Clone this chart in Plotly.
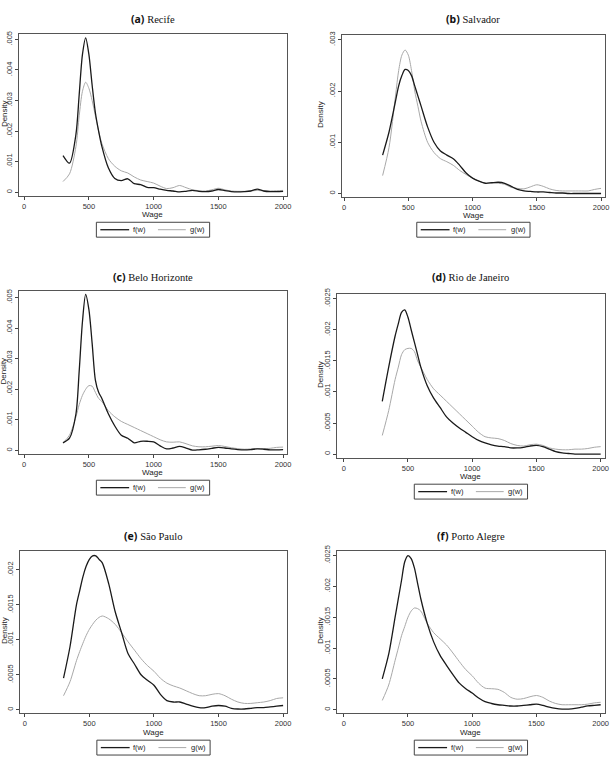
import plotly.graph_objects as go

# wage grid shared by all six kernel density curves
wage = [300, 350, 400, 425, 450, 475, 500, 525, 550, 575, 600, 650, 700, 750, 800,
        850, 900, 950, 1000, 1050, 1100, 1150, 1200, 1250, 1300, 1350, 1400, 1450,
        1500, 1550, 1600, 1650, 1700, 1750, 1800, 1850, 1900, 1950, 2000]

recife_f = [.0012, .00095, .0019, .0032, .0045, .00505, .0045, .0035, .0026, .002, .0015,
            .0008, .00045, .00038, .00044, .00028, .00025, .00016, .00015, .0001, .00006,
            .00004, .00001, .00003, .00006, .00003, .00002, .00004, .00009, .00005, .00002,
            .00001, .00002, .00004, .0001, .00004, .00002, .00002, .00003]
recife_g = [.00035, .0006, .0015, .0025, .0033, .0036, .0034, .003, .0025, .002, .0016,
            .0011, .00085, .0007, .00063, .0005, .0004, .00035, .0003, .0002, .00012,
            .00015, .00022, .00015, .00008, .00005, .00004, .00008, .00013, .00008, .00004,
            .00003, .00003, .00004, .00006, .00004, .00004, .00005, .00006]

salvador_f = [.00075, .0012, .0018, .0021, .0023, .00242, .0024, .0023, .0021, .0019, .0017,
              .0013, .001, .00083, .00075, .00068, .00055, .0004, .0003, .00024, .0002,
              .00021, .00022, .0002, .00014, .00008, .00005, .00004, .00003, .00003, .00002,
              .00001, .00001, 0, 0, 0, 0, 0, 0]
salvador_g = [.00035, .0009, .0019, .0024, .0027, .0028, .0027, .0024, .002, .0017, .0014,
              .001, .0008, .00068, .00062, .00055, .00045, .00037, .0003, .00024, .0002,
              .00021, .0002, .00018, .00012, .0001, .00009, .00013, .00017, .00014, .00009,
              .00006, .00005, .00005, .00005, .00005, .00005, .00008, .0001]

bh_f = [.00025, .0004, .0012, .0026, .0042, .0051, .0046, .0035, .0023, .0019, .0017,
        .0012, .0008, .0005, .0004, .00025, .0003, .0003, .00028, .00015, .00005,
        .00008, .00013, .00008, .00001, .00002, .00004, .00007, .0001, .00008, .00005,
        .00003, .00002, .00003, .00005, .00004, .00002, .00002, .00003]
bh_g = [.00025, .0005, .0011, .0015, .0018, .002, .00212, .0021, .0019, .0017, .0016,
        .0013, .0011, .00095, .00085, .00075, .00065, .00055, .00045, .00035, .00028,
        .00027, .00028, .00022, .00015, .00012, .00012, .00014, .00016, .00013, .00009,
        .00006, .00004, .00005, .00006, .00006, .00007, .0001, .00011]

rio_f = [.00085, .0014, .0019, .0021, .00228, .00232, .0022, .002, .0018, .0016, .0014,
         .0011, .0009, .00075, .0006, .0005, .00042, .00035, .00028, .00022, .00018,
         .00015, .00013, .00012, .0001, .0001, .00011, .00013, .00014, .00012, .00008,
         .00004, .00002, .00001, 0, 0, 0, 0, 0]
rio_g = [.0003, .0007, .0012, .0014, .0016, .00168, .0017, .0017, .00165, .0015, .0014,
         .0012, .00105, .00095, .00085, .00075, .00065, .00055, .00045, .00035, .00028,
         .00026, .00025, .00022, .00017, .00014, .00013, .00015, .00016, .00014, .0001,
         .00008, .00007, .00007, .00008, .00008, .00009, .00011, .00012]

sp_f = [.00045, .0009, .0015, .0017, .0019, .00205, .00215, .0022, .0022, .00215, .0021,
        .0018, .0014, .0011, .0008, .00065, .0005, .00042, .00035, .00022, .00013,
        .00011, .00011, .00008, .00005, .00003, .00003, .00005, .00006, .00005, .00002,
        .00001, .00001, .00002, .00003, .00003, .00004, .00005, .00006]
sp_g = [.0002, .0004, .0007, .00083, .00095, .00106, .00115, .00122, .00128, .00132, .00134,
        .0013, .00122, .0011, .00097, .00085, .00073, .00063, .00055, .00045, .00038,
        .00034, .00031, .00027, .00023, .0002, .0002, .00022, .00023, .0002, .00015,
        .00011, .00009, .00009, .0001, .00011, .00013, .00016, .00017]

poa_f = [.0005, .0009, .0015, .0018, .0021, .0024, .0025, .00245, .0023, .00205, .0018,
         .0014, .0011, .00088, .00072, .00057, .00043, .00034, .00027, .00019, .00013,
         .0001, .00008, .00007, .00006, .00006, .00007, .00008, .00009, .00007, .00004,
         .00002, .00001, .00001, .00002, .00004, .00006, .00007, .00008]
poa_g = [.00015, .0004, .0008, .001, .0012, .00135, .0015, .0016, .00165, .00164, .0016,
         .0014, .00125, .00115, .00105, .00092, .00078, .00065, .00055, .00043, .00035,
         .00034, .00033, .00028, .0002, .00017, .00018, .00021, .00023, .0002, .00014,
         .0001, .00008, .00008, .00008, .00008, .00009, .00011, .00012]

labels = ["(a)", "(b)", "(c)", "(d)", "(e)", "(f)"]
cities = ["Recife", "Salvador", "Belo Horizonte", "Rio de Janeiro", "São Paulo", "Porto Alegre"]
f_series = [recife_f, salvador_f, bh_f, rio_f, sp_f, poa_f]
g_series = [recife_g, salvador_g, bh_g, rio_g, sp_g, poa_g]
y_ticks = [[0, .001, .002, .003, .004, .005],
           [0, .001, .002, .003],
           [0, .001, .002, .003, .004, .005],
           [0, .0005, .001, .0015, .002, .0025],
           [0, .0005, .001, .0015, .002],
           [0, .0005, .001, .0015, .002, .0025]]
x_ticks = [0, 500, 1000, 1500, 2000]

W, H = 614, 760
# plot box in pixels (left, right, top, bottom), axis ranges, text rows
boxes = [(19, 289, 28, 192), (344, 609, 29, 193),
         (19, 289, 287, 452), (339, 609, 290, 456),
         (20, 289, 549, 713), (339, 609, 549, 713)]
xranges = [(-41, 2031), (-18, 2031), (-41, 2031), (-54, 2034), (-38, 2031), (-54, 2034)]
yranges = [(-0.000139, 0.005185), (-0.0000774, 0.003097), (-0.00013, 0.00522),
           (-0.000069, 0.00258), (-0.0000525, 0.002274), (-0.00006, 0.00258)]
title_y = [13, 13, 273, 273, 534, 534]
wage_y = [210, 211, 470, 474, 732, 732]
legend_top = [218, 218, 478, 482, 740, 740]


def px(x):
    return x / W


def py(y):
    return 1 - y / H


def fmt(v):
    return "0" if v == 0 else ("%g" % v).replace("0.", ".", 1)


def note(x, y, text, size, **kw):
    return dict(x=px(x), y=py(y), xref="paper", yref="paper", showarrow=False,
                xanchor="center", yanchor="middle", text=text,
                font=dict(family="Liberation Sans", size=size, color="#222"), **kw)


fig = go.Figure()
shapes, annos = [], []
tickfont = dict(family="Liberation Sans", size=7.5, color="#333")

for i in range(6):
    n = "" if i == 0 else str(i + 1)
    l, r, t, b = boxes[i]
    fig.add_trace(go.Scatter(x=wage, y=g_series[i], mode="lines", xaxis="x" + n, yaxis="y" + n,
                             line=dict(color="#a8a8a8", width=1, shape="spline", smoothing=0.8),
                             showlegend=False, hoverinfo="skip"))
    fig.add_trace(go.Scatter(x=wage, y=f_series[i], mode="lines", xaxis="x" + n, yaxis="y" + n,
                             line=dict(color="#1a1a1a", width=1.3, shape="spline", smoothing=0.8),
                             showlegend=False, hoverinfo="skip"))
    fig.layout["xaxis" + n] = dict(domain=[px(l), px(r)], range=list(xranges[i]), anchor="y" + n,
                                   tickvals=x_ticks, ticktext=[str(v) for v in x_ticks],
                                   ticks="outside", ticklen=3, tickcolor="#444", tickfont=tickfont,
                                   showline=True, mirror=True, linecolor="#555", linewidth=1,
                                   showgrid=False, zeroline=False)
    fig.layout["yaxis" + n] = dict(domain=[py(b), py(t)], range=list(yranges[i]), anchor="x" + n,
                                   tickvals=y_ticks[i], ticktext=[fmt(v) for v in y_ticks[i]],
                                   tickangle=-90, ticks="outside", ticklen=3, tickcolor="#444",
                                   tickfont=tickfont, showline=True, mirror=True,
                                   linecolor="#555", linewidth=1, showgrid=False, zeroline=False)
    cx = (l + r) / 2
    t_anno = note(cx, title_y[i], "<b>%s</b> <span style='font-family:Liberation Serif'>%s</span>"
                  % (labels[i], cities[i]), 10)
    t_anno["font"] = dict(family="Noto Sans", size=10.5, color="#111")
    annos.append(t_anno)
    annos.append(note(cx, wage_y[i], "Wage", 8))
    dx = 4 if l < 300 else 322
    annos.append(note(dx, (t + b) / 2 - 2, "Density", 8, textangle=-90))
    # legend box under each panel
    lt = legend_top[i]
    lx0 = cx - 57
    ly = lt + 7.5
    shapes.append(dict(type="rect", xref="paper", yref="paper", x0=px(lx0), x1=px(lx0 + 114),
                       y0=py(lt), y1=py(lt + 15), line=dict(color="#444", width=1)))
    shapes.append(dict(type="line", xref="paper", yref="paper", x0=px(lx0 + 4), x1=px(lx0 + 33),
                       y0=py(ly), y1=py(ly), line=dict(color="#1a1a1a", width=1.3)))
    shapes.append(dict(type="line", xref="paper", yref="paper", x0=px(lx0 + 62), x1=px(lx0 + 90),
                       y0=py(ly), y1=py(ly), line=dict(color="#a8a8a8", width=1)))
    annos.append(note(lx0 + 43, ly, "f(w)", 7.5))
    annos.append(note(lx0 + 102, ly, "g(w)", 7.5))

fig.update_layout(width=W, height=H, margin=dict(l=0, r=0, t=0, b=0),
                  paper_bgcolor="white", plot_bgcolor="white",
                  shapes=shapes, annotations=annos, showlegend=False)

fig.write_html("out.html", config={"displayModeBar": False},
               post_script="document.body.style.margin='0';")
